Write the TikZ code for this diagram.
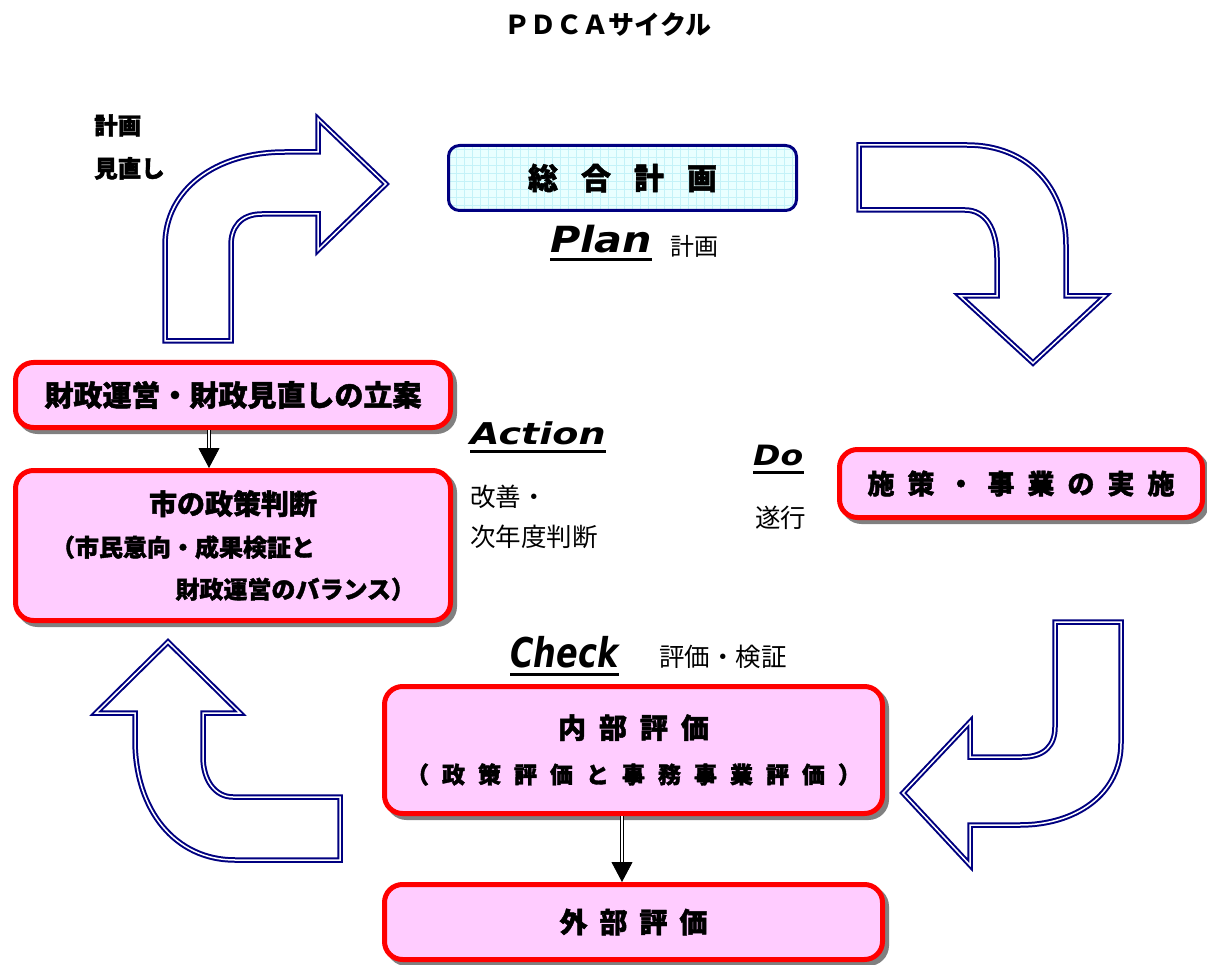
\documentclass[tikz,border=0pt]{standalone}
\usepackage{fontspec}
\setmainfont{Noto Sans CJK JP}
\newfontfamily\latn{DejaVu Sans}
\usepackage{graphicx}
\usetikzlibrary{arrows.meta, shadows}
\definecolor{navy}{HTML}{000080}
\definecolor{boxred}{HTML}{FF0000}
\definecolor{boxpink}{HTML}{FFCCFF}
\definecolor{shadowgray}{HTML}{808080}
\definecolor{planfill}{HTML}{E9FFFF}
\definecolor{plangrid}{HTML}{C4F2F8}
\tikzset{>=latex}

\begin{document}
\begin{tikzpicture}[x=1pt, y=-1pt,
		turn/.style={draw=navy, double=white, double distance=1.5pt,
			line width=2pt, fill=white},
		redbox/.style={draw=boxred, line width=5pt, fill=boxpink,
			rounded corners=18pt, inner sep=0pt,
			general shadow={draw=shadowgray, fill=shadowgray,
				shadow xshift=4pt, shadow yshift=-4pt}},
		planbox/.style={draw=navy, line width=3pt, fill=planfill,
			rounded corners=11pt, inner sep=0pt,
			path picture={\draw[plangrid, thin, step=8pt]
				(path picture bounding box.south west) grid
				(path picture bounding box.north east);}},
		heavy/.style={font=\bfseries\fontsize{#1}{#1}\selectfont\addfontfeature{FakeBold=1.6}},
		heavy/.default=28,
		tracking/.style={execute at begin node={\spaceskip=#1\relax}},
		tracking/.default=10pt,
		phase/.style={font=\latn\bfseries\itshape\fontsize{#1}{#1}\selectfont,
			inner sep=0pt, anchor=base west},
		phase/.default=30,
		note/.style={font=\fontsize{25.5}{40}\selectfont, inner sep=0pt,
			anchor=west, align=left},
		feed/.style={draw=black, double=white, double distance=2pt,
			line width=0.9pt, -{Triangle[width=21pt, length=20pt]}},
		uline/.style={line width=3pt}]
	\useasboundingbox (0,0) rectangle (1207,965);

	% title
	\node[font=\bfseries\fontsize{26}{26}\selectfont] (title) at (608,25) {ＰＤＣＡサイクル};

	% the four turning arrows
	\draw[turn] (165,341) -- (165,245) .. controls (165,190) and (215,152) .. (285,152)
		-- (318,152) -- (318,119) -- (386,184) -- (318,250) -- (318,214) -- (262,214)
		.. controls (240,214) and (231,228) .. (231,245) -- (231,341) -- cycle;
	\draw[turn] (859,145) -- (967,145) .. controls (1030,145) and (1066,190) .. (1066,245)
		-- (1066,296) -- (1105,296) -- (1033,363) -- (960,296) -- (997,296) -- (997,258)
		.. controls (997,228) and (985,210) .. (965,210) -- (859,210) -- cycle;
	\draw[turn] (1055,622) -- (1121,622) -- (1121,743) .. controls (1121,795) and (1075,825) .. (1020,825)
		-- (970,825) -- (970,865) -- (903,793) -- (970,722) -- (970,757) -- (1022,757)
		.. controls (1045,757) and (1055,745) .. (1055,727) -- cycle;
	\draw[turn] (340,860) -- (235,860) .. controls (175,860) and (135,810) .. (135,740)
		-- (135,713) -- (96,713) -- (168,642) -- (240,713) -- (203,713) -- (203,757)
		.. controls (203,780) and (215,797) .. (233,797) -- (340,797) -- cycle;

	\node[font=\bfseries\fontsize{23.5}{43}\selectfont\addfontfeature{FakeBold=1.6},
		align=left, anchor=west, inner sep=0pt] (revise) at (94,147) {計画\\見直し};

	% plan
	\node[planbox, heavy=30, tracking=23pt, minimum width=348pt, minimum height=65pt]
		(master) at (622.5,178) {総 合 計 画};
	\node[phase=36] (planlbl) at (550,253) {\scalebox{1.15}[1]{Plan}};
	\node[note, font=\fontsize{24}{24}\selectfont] (plannote) at (670,246) {計画};

	% do
	\node[redbox, heavy=27, tracking=13pt, minimum width=363pt, minimum height=68pt]
		(exec) at (1021,483.5) {施 策 ・ 事 業 の 実 施};
	\node[phase=28] (dolbl) at (753,465) {\scalebox{1.18}[1]{Do}};
	\node[note] (donote) at (755,518) {遂行};

	% check
	\node[redbox, font=\bfseries\fontsize{23}{45}\selectfont\addfontfeature{FakeBold=1.6},
		tracking=13pt, align=center, minimum width=498pt, minimum height=127pt]
		(inner) at (633.5,750)
		{{\fontsize{28}{45}\selectfont 内 部 評 価}\\（ 政 策 評 価 と 事 務 事 業 評 価 ）};
	\node[redbox, heavy=28, tracking=12pt, minimum width=498pt, minimum height=75pt]
		(outer) at (633.5,922) {外 部 評 価};
	\node[phase=41] (chklbl) at (510,667) {\scalebox{0.78}[1]{Check}};
	\node[note] (chknote) at (659,657) {評価・検証};
	\draw[feed] (inner.south -| 622,0) -- (outer.north -| 622,0);

	% action
	\node[redbox, heavy=29, minimum width=435pt, minimum height=65pt]
		(fin) at (233,395) {財政運営・財政見直しの立案};
	\node[redbox, font=\bfseries\fontsize{24}{42}\selectfont\addfontfeature{FakeBold=1.6},
		text width=364pt, align=center, minimum width=435pt, minimum height=150pt]
		(judge) at (233,545.5)
		{{\fontsize{28}{42}\selectfont 市の政策判断}\\
		\makebox[364pt][l]{（市民意向・成果検証と}\\
		\makebox[364pt][r]{財政運営のバランス）}};
	\node[phase=30] (actlbl) at (470,444) {\scalebox{1.27}[1]{Action}};
	\node[note] (actnote) at (470,517) {改善・\\次年度判断};
	\draw[feed] (fin.south -| 209,0) -- (judge.north -| 209,0);

	% underlines
	\foreach \l in {planlbl, actlbl, dolbl, chklbl}
		\draw[uline] ([yshift=-7pt]\l.base west) -- ([yshift=-7pt]\l.base east);
\end{tikzpicture}
\end{document}
